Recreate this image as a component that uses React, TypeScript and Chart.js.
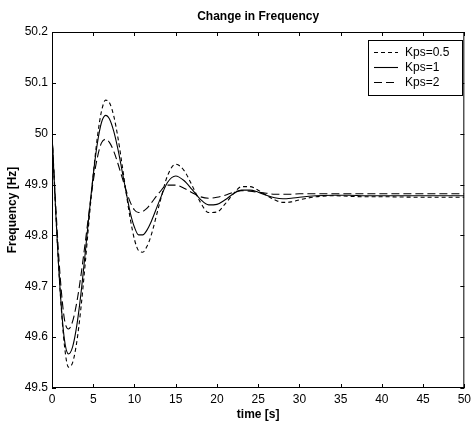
import React, { useEffect, useRef } from "react";
import { Chart, registerables } from "chart.js";

Chart.register(...registerables);

const chartTitle = "Change in Frequency";
const xTitle = "time [s]";
const yTitle = "Frequency [Hz]";
const seriesLabels = ["Kps=0.5", "Kps=1", "Kps=2"];

const timeS = [
  0, 0.5, 1, 1.5, 2, 2.5, 3, 3.5, 4, 4.5, 5, 5.5, 6, 6.5, 7, 7.5, 8, 8.5, 9, 9.5, 10, 10.5, 11, 11.5, 12,
  13, 14, 15, 16, 17, 18, 19, 20, 21, 22, 23, 24, 25, 26, 27, 28, 29, 30,
  32, 34, 36, 38, 40, 45, 50,
];

const kps05 = [
  50.0, 49.832, 49.687, 49.585, 49.541, 49.55, 49.59, 49.656, 49.74, 49.831, 49.919, 49.993, 50.044, 50.066, 50.06,
  50.034, 49.992, 49.939, 49.883, 49.832, 49.792, 49.77, 49.767, 49.778, 49.799,
  49.86, 49.917, 49.94, 49.928, 49.898, 49.865, 49.845, 49.846, 49.862, 49.882, 49.896, 49.896, 49.889, 49.879,
  49.87, 49.865, 49.866, 49.87,
  49.876, 49.878, 49.877, 49.876, 49.876, 49.875, 49.875,
];

const kps1 = [
  50.0, 49.831, 49.689, 49.596, 49.567, 49.581, 49.622, 49.684, 49.761, 49.842, 49.919, 49.981, 50.022, 50.036, 50.028,
  50.004, 49.969, 49.927, 49.884, 49.844, 49.816, 49.801, 49.801, 49.81, 49.826,
  49.867, 49.904, 49.917, 49.908, 49.89, 49.871, 49.86, 49.861, 49.87, 49.882, 49.889, 49.889, 49.885, 49.879,
  49.874, 49.872, 49.873, 49.875,
  49.878, 49.879, 49.879, 49.878, 49.878, 49.878, 49.878,
];

const kps2 = [
  50.0, 49.845, 49.717, 49.636, 49.616, 49.631, 49.668, 49.72, 49.782, 49.847, 49.907, 49.953, 49.982, 49.989, 49.982,
  49.965, 49.941, 49.914, 49.888, 49.865, 49.85, 49.845, 49.847, 49.853, 49.863,
  49.884, 49.899, 49.899, 49.893, 49.884, 49.876, 49.873, 49.875, 49.879, 49.885, 49.888, 49.887, 49.885, 49.883,
  49.881, 49.881, 49.881, 49.882,
  49.882, 49.882, 49.882, 49.882, 49.882, 49.882, 49.882,
];

const xTicks = [0, 5, 10, 15, 20, 25, 30, 35, 40, 45, 50];
const yTicks = [49.5, 49.6, 49.7, 49.8, 49.9, 50.0, 50.1, 50.2];

const FONT = "'Liberation Sans', Arial, Helvetica, sans-serif";
const dashes = [[4, 3], [], [8, 4]];

const decorPlugin = {
  id: "decor",
  afterDraw(chart: any) {
    const { ctx, chartArea: a, scales } = chart;
    ctx.save();
    ctx.strokeStyle = "#000";
    ctx.lineWidth = 1;
    ctx.setLineDash([]);
    // frame
    ctx.strokeRect(a.left + 0.5, a.top + 0.5, a.right - a.left - 1, a.bottom - a.top - 1);
    // inward ticks
    const tl = 4;
    ctx.beginPath();
    xTicks.forEach((v) => {
      const px = Math.round(scales.x.getPixelForValue(v)) + 0.5;
      ctx.moveTo(px, a.bottom);
      ctx.lineTo(px, a.bottom - tl);
      ctx.moveTo(px, a.top);
      ctx.lineTo(px, a.top + tl);
    });
    yTicks.forEach((v) => {
      const py = Math.round(scales.y.getPixelForValue(v)) + 0.5;
      ctx.moveTo(a.left, py);
      ctx.lineTo(a.left + tl, py);
      ctx.moveTo(a.right, py);
      ctx.lineTo(a.right - tl, py);
    });
    ctx.stroke();
    // title
    ctx.fillStyle = "#000";
    ctx.font = `bold 12px ${FONT}`;
    ctx.textAlign = "center";
    ctx.textBaseline = "middle";
    ctx.fillText(chartTitle, (a.left + a.right) / 2, 17);
    // legend
    const lx = 368.5, ly = 40.5, lw = 94, lh = 55;
    ctx.fillStyle = "#fff";
    ctx.fillRect(lx, ly, lw, lh);
    ctx.strokeRect(lx, ly, lw, lh);
    ctx.font = `12px ${FONT}`;
    ctx.textAlign = "left";
    chart.data.datasets.forEach((ds: any, i: number) => {
      const y = 52.5 + 15 * i;
      ctx.beginPath();
      ctx.setLineDash(ds.borderDash || []);
      ctx.lineWidth = ds.borderWidth;
      ctx.strokeStyle = ds.borderColor;
      ctx.moveTo(374, y);
      ctx.lineTo(398, y);
      ctx.stroke();
      ctx.setLineDash([]);
      ctx.fillStyle = "#000";
      ctx.fillText(ds.label, 405, y);
    });
    ctx.restore();
  },
};

export default function App() {
  const ref = useRef<HTMLCanvasElement | null>(null);
  useEffect(() => {
    document.body.style.margin = "0";
    const series = [kps05, kps1, kps2];
    const chart = new Chart(ref.current as HTMLCanvasElement, {
      type: "line",
      data: {
        datasets: series.map((vals, i) => ({
          label: seriesLabels[i],
          data: timeS.map((t, j) => ({ x: t, y: vals[j] })),
          borderColor: "#000",
          borderWidth: 1.1,
          borderDash: dashes[i],
          pointRadius: 0,
          fill: false,
          cubicInterpolationMode: "monotone" as const,
        })),
      },
      options: {
        animation: false,
        responsive: false,
        devicePixelRatio: 1,
        layout: { padding: { top: 32, right: 8, left: 0, bottom: 0 } },
        plugins: { legend: { display: false }, title: { display: false }, tooltip: { enabled: false } },
        scales: {
          x: {
            type: "linear",
            min: 0,
            max: 50,
            grid: { display: false, drawTicks: false },
            border: { display: false },
            afterBuildTicks: (s: any) => {
              s.ticks = xTicks.map((v) => ({ value: v }));
            },
            afterFit: (s: any) => {
              s.height = 40;
            },
            ticks: {
              color: "#000",
              padding: 4,
              maxRotation: 0,
              autoSkip: false,
              font: { family: FONT, size: 12 },
              callback: (v: any) => String(v),
            },
            title: {
              display: true,
              text: xTitle,
              color: "#000",
              font: { family: FONT, size: 12, weight: "bold" },
              padding: { top: 0, bottom: 6 },
            },
          },
          y: {
            type: "linear",
            min: 49.5,
            max: 50.2,
            grid: { display: false, drawTicks: false },
            border: { display: false },
            afterBuildTicks: (s: any) => {
              s.ticks = yTicks.map((v) => ({ value: v }));
            },
            afterFit: (s: any) => {
              s.width = 52;
            },
            ticks: {
              color: "#000",
              padding: 4,
              autoSkip: false,
              font: { family: FONT, size: 12 },
              callback: (v: any) => String(Number(Number(v).toFixed(1))),
            },
            title: {
              display: true,
              text: yTitle,
              color: "#000",
              font: { family: FONT, size: 12, weight: "bold" },
              padding: { top: 5, bottom: 0 },
            },
          },
        },
      },
      plugins: [decorPlugin],
    });
    return () => chart.destroy();
  }, []);
  return (
    <div style={{ width: 475, height: 428, background: "#fff" }}>
      <canvas ref={ref} width={475} height={428} />
    </div>
  );
}
